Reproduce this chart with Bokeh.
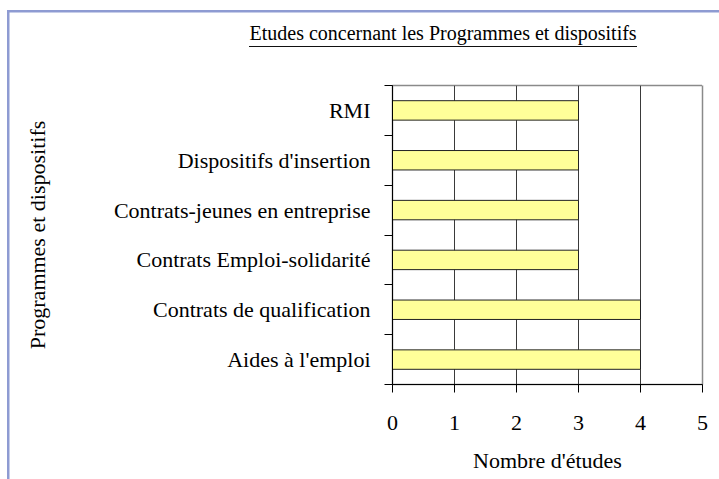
from bokeh.plotting import figure
from bokeh.models import ColumnDataSource, Range1d, FixedTicker, Title, LinearAxis
from bokeh.embed import file_html
from bokeh.resources import INLINE

# ---- data ----
categories = ["Aides à l'emploi", "Contrats de qualification", "Contrats Emploi-solidarité",
              "Contrats-jeunes en entreprise", "Dispositifs d'insertion", "RMI"]
nb_etudes = [4, 4, 3, 3, 3, 3]
x_ticks = [0, 1, 2, 3, 4, 5]
title_text = "Etudes concernant les Programmes et dispositifs"
x_title = "Nombre d'études"
y_title = "Programmes et dispositifs"

FONT = "Liberation Serif"
FRAME_BLUE = "#8e9bd2"

ypos = [i + 0.5 for i in range(len(categories))]
source = ColumnDataSource(dict(y=ypos, value=nb_etudes, cat=categories))

# decorative outer frame (left/top) and title underline drawn as CSS background
bg = ("linear-gradient(#111,#111) 249px 46px / 388px 1.2px no-repeat, "
      f"linear-gradient({FRAME_BLUE},{FRAME_BLUE}) 7px 10px / 2.5px 100% no-repeat, "
      f"linear-gradient({FRAME_BLUE},{FRAME_BLUE}) 7px 10px / 100% 2.5px no-repeat, "
      "white")

p = figure(width=719, height=479, output_backend="svg", toolbar_location=None, title=None,
           x_range=Range1d(0, 5), y_range=Range1d(0, len(categories)),
           min_border_left=392, min_border_right=17, min_border_top=85, min_border_bottom=95,
           styles={"background": bg})
p.background_fill_color = "white"
p.border_fill_color = None
p.outline_line_color = "#8a8a8a"
p.outline_line_width = 1.5

xa = p.below[0]
ya = p.left[0]

# invisible spacer between frame and title (one white tick, no label)
spacer = LinearAxis(ticker=FixedTicker(ticks=[x_ticks[-1]]), major_tick_out=40, major_tick_in=0,
                    major_tick_line_color="white", minor_tick_line_color=None,
                    axis_line_color=None, major_label_standoff=0,
                    major_label_overrides={x_ticks[-1]: ""}, major_label_text_font_size="1px")
p.add_layout(spacer, "above")

# title
ttl = Title(text=title_text, text_font=FONT, text_font_size="20px", text_font_style="normal",
            text_color="black", align="left", offset=-143, standoff=4)
p.add_layout(ttl, "above")

p.hbar(y="y", left=0, right="value", height=0.39, source=source,
       fill_color="#ffff99", line_color="#222222", line_width=1)

# grid
p.ygrid.visible = False
p.xgrid.ticker = FixedTicker(ticks=x_ticks[1:-1])
p.xgrid.grid_line_color = "#3a3a3a"
p.xgrid.grid_line_width = 1

# x axis
xa.ticker = FixedTicker(ticks=x_ticks)
xa.axis_line_color = "black"
xa.major_tick_line_color = "black"
xa.major_tick_out = 8
xa.major_tick_in = 0
xa.minor_tick_line_color = None
xa.major_label_text_font = FONT
xa.major_label_text_font_size = "22px"
xa.major_label_text_color = "black"
xa.major_label_standoff = 23
xa.axis_label = x_title
xa.axis_label_text_font = FONT
xa.axis_label_text_font_size = "22px"
xa.axis_label_text_font_style = "normal"
xa.axis_label_text_color = "black"
xa.axis_label_standoff = 15

# y axis (labels at category centres, tick marks at category boundaries)
ya.ticker = FixedTicker(ticks=ypos, minor_ticks=list(range(len(categories) + 1)))
ya.major_label_overrides = {y: c for y, c in zip(ypos, categories)}
ya.axis_line_color = "black"
ya.major_tick_line_color = None
ya.major_tick_out = 8
ya.major_tick_in = 0
ya.minor_tick_line_color = "black"
ya.minor_tick_out = 8
ya.minor_tick_in = 0
ya.major_label_text_font = FONT
ya.major_label_text_font_size = "22px"
ya.major_label_text_color = "black"
ya.major_label_standoff = 14
ya.axis_label = y_title
ya.axis_label_text_font = FONT
ya.axis_label_text_font_size = "22px"
ya.axis_label_text_font_style = "normal"
ya.axis_label_text_color = "black"
ya.axis_label_standoff = 61

open("out.html", "w").write(file_html(p, INLINE))
